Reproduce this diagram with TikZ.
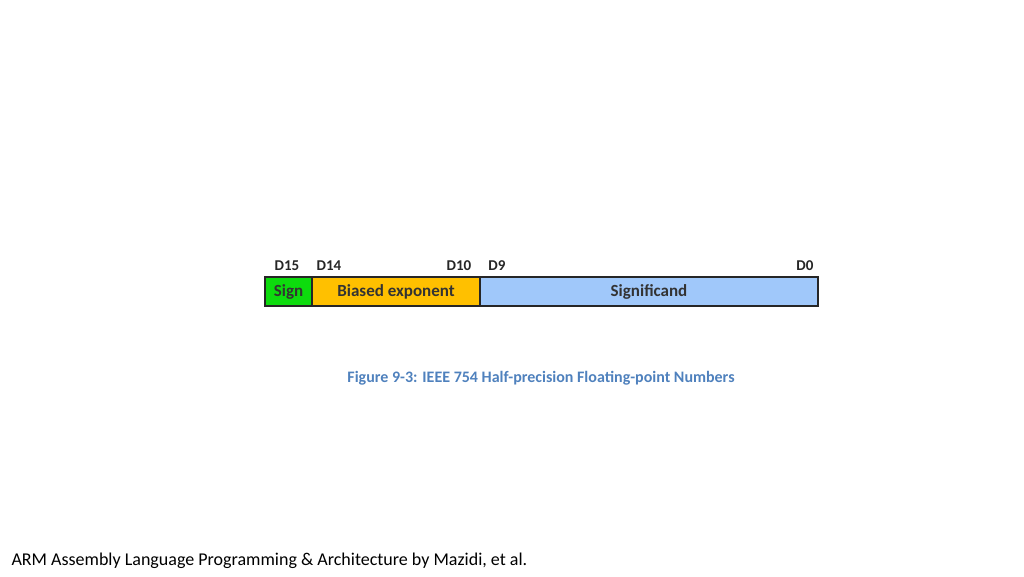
\documentclass[tikz,border=0pt]{standalone}
\usepackage{fontspec}
\setmainfont{Carlito}
\begin{document}
\begin{tikzpicture}[x=1pt,y=-1pt,
  field/.style={draw=black!85,line width=1.6pt,minimum height=29pt,inner sep=0pt,font=\bfseries\fontsize{17}{17}\selectfont,text=black!80},
  bit/.style={font=\bfseries\fontsize{15}{15}\selectfont,text=black!85}]
\useasboundingbox (0,0) rectangle (1024,576);
\node[field,fill=green!85!black!95,minimum width=47pt] (sign) at (288.5,291.5) {Sign};
\node[field,fill=orange!40!yellow!95!black,fill={rgb,255:red,255;green,192;blue,0},minimum width=168pt] (exp) at (396,291.5) {Biased exponent};
\node[field,fill={rgb,255:red,160;green,200;blue,250},minimum width=338pt] (sig) at (649,291.5) {Significand};
\node[bit] (d15) at (287,266) {D15};
\node[bit] (d14) at (329,266) {D14};
\node[bit] (d10) at (459,266) {D10};
\node[bit] (d9) at (497,266) {D9};
\node[bit] (d0) at (805,266) {D0};
\node[font=\bfseries\fontsize{16}{16}\selectfont,text={rgb,255:red,79;green,129;blue,189}] (cap) at (541,378) {Figure 9-3: IEEE 754 Half-precision Floating-point Numbers};
\node[anchor=west,font=\fontsize{18}{18}\selectfont] (foot) at (8,561) {ARM Assembly Language Programming \& Architecture by Mazidi, et al.};
\end{tikzpicture}
\end{document}
